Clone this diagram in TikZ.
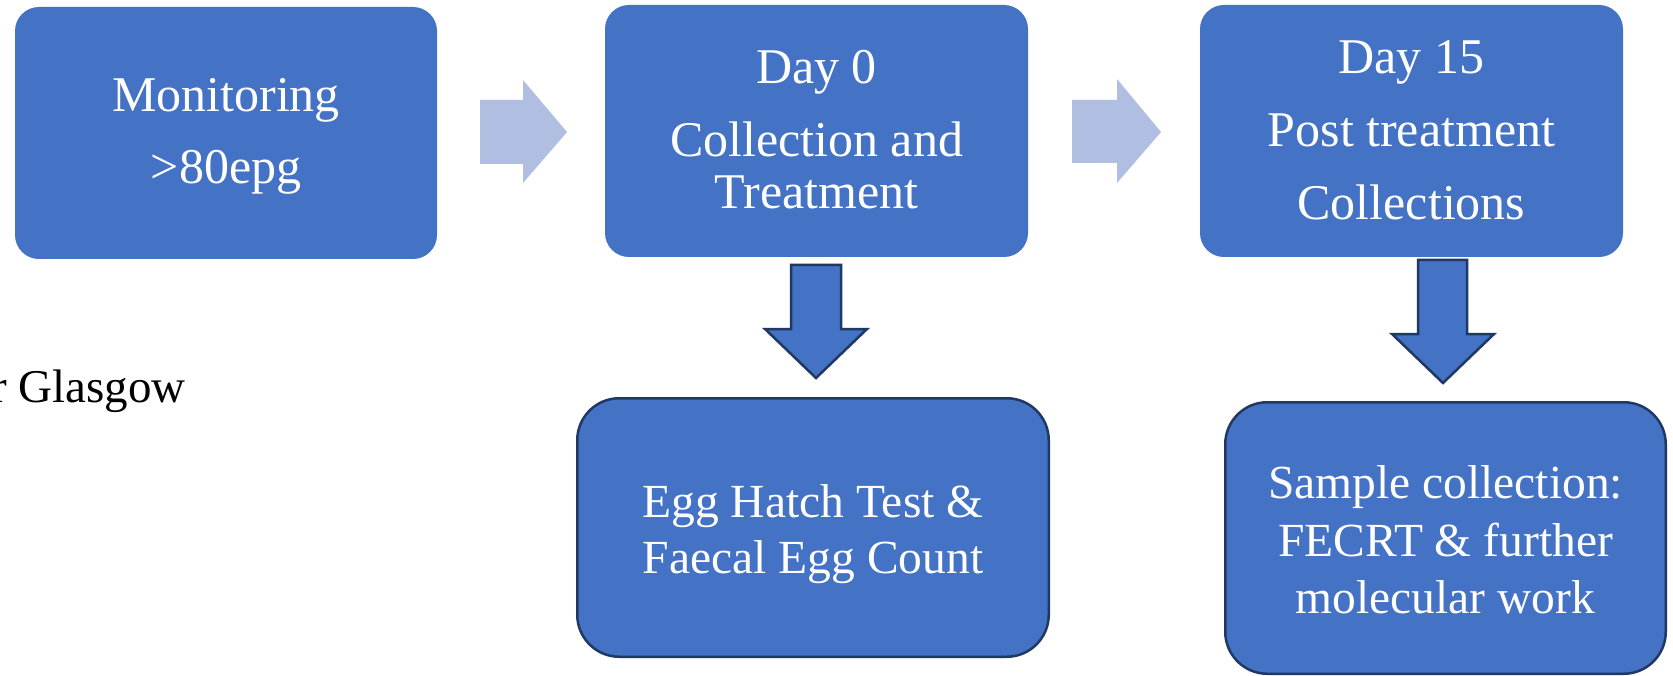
\documentclass[tikz,border=0pt]{standalone}
\usepackage{fontspec}
\setmainfont{Liberation Serif}
\definecolor{boxblue}{HTML}{4472C4}
\definecolor{lightarrow}{HTML}{B0BFE1}
\definecolor{darkedge}{HTML}{1F3864}
\begin{document}
\begin{tikzpicture}[x=1pt,y=-1pt,
  topbox/.style={fill=boxblue, draw=none, rounded corners=24pt, inner sep=0pt},
  lowbox/.style={fill=boxblue, draw=darkedge, line width=2.5pt, rounded corners=42pt, inner sep=0pt},
  toptext/.style={text=white, anchor=base, inner sep=0pt, font=\fontsize{50}{60}\selectfont},
  lowtext/.style={text=white, anchor=base, inner sep=0pt, font=\fontsize{47.5}{57}\selectfont},
  rightarrow/.style={fill=lightarrow},
  downarrow/.style={fill=boxblue, draw=darkedge, line width=2.5pt, line join=miter}
]
\clip (0,0) rectangle (1673,676);
\fill[white] (0,0) rectangle (1673,676);

% boxes
\node[topbox, minimum width=422pt, minimum height=252pt] (mon) at (226,133) {};
\node[topbox, minimum width=423pt, minimum height=252pt] (day0) at (816.5,131) {};
\node[topbox, minimum width=423pt, minimum height=252pt] (day15) at (1411.5,131) {};
\node[lowbox, minimum width=471.5pt, minimum height=258.5pt] (egg) at (813,527.5) {};
\node[lowbox, minimum width=440.5pt, minimum height=271.5pt] (sample) at (1445.5,538) {};

% texts
\node[toptext] (mon1) at (226,112) {Monitoring};
\node[toptext] (mon2) at (226,184) {>80epg};
\node[toptext] (d01) at (816.5,84) {Day 0};
\node[toptext] (d02) at (816.5,157) {Collection and};
\node[toptext] (d03) at (816.5,209) {Treatment};
\node[toptext] (d151) at (1411.5,74) {Day 15};
\node[toptext] (d152) at (1411.5,147) {Post treatment};
\node[toptext] (d153) at (1411.5,220) {Collections};
\node[lowtext] (egg1) at (813,517) {Egg Hatch Test \&};
\node[lowtext] (egg2) at (813,573) {Faecal Egg Count};
\node[lowtext] (s1) at (1445.5,498) {Sample collection:};
\node[lowtext] (s2) at (1445.5,556) {FECRT \& further};
\node[lowtext] (s3) at (1445.5,613) {molecular work};

\node[anchor=base west, inner sep=0pt, font=\fontsize{47}{56}\selectfont] (glas) at (-9,402) {r Glasgow};

% right block arrows
\fill[rightarrow] (480,100) -- (523,100) -- (523,80) -- (567,132) -- (523,183) -- (523,164) -- (480,164) -- cycle;
\fill[rightarrow] (1072,100) -- (1117,100) -- (1117,79) -- (1161,132) -- (1117,183) -- (1117,163) -- (1072,163) -- cycle;

% down block arrows
\draw[downarrow] (791,265) -- (841,265) -- (841,329) -- (867,329) -- (816,378) -- (765,329) -- (791,329) -- cycle;
\draw[downarrow] (1418,260) -- (1467,260) -- (1467,334) -- (1494,334) -- (1443,383) -- (1392,334) -- (1418,334) -- cycle;
\end{tikzpicture}
\end{document}
